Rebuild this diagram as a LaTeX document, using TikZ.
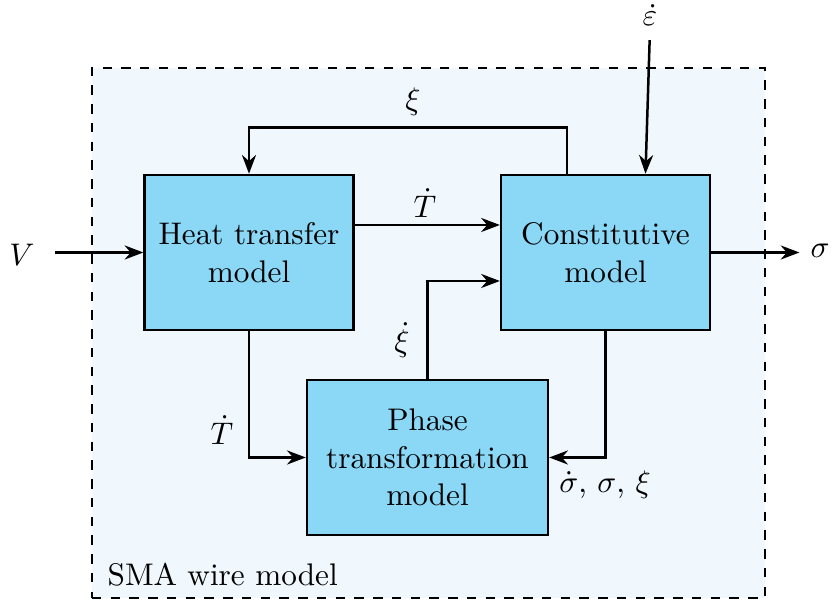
\documentclass[tikz,border=0pt]{standalone}
\usetikzlibrary{calc,arrows.meta}
\definecolor{boxfill}{RGB}{138,215,246}
\definecolor{bgfill}{RGB}{240,247,253}
\begin{document}
\begin{tikzpicture}[x=0.32pt,y=-0.32pt,
  blk/.style={draw,thick,fill=boxfill,align=center,minimum width=66.8pt,minimum height=49.6pt,inner sep=0pt},
  arr/.style={thick,-{Stealth[length=6pt,width=4.5pt]}},
  lbl/.style={inner sep=1pt}]
\useasboundingbox (0,0) rectangle (837,603);
\node[draw,line width=0.9pt,dashed,fill=bgfill,minimum width=215.4pt,minimum height=169.6pt,inner sep=0pt] (frame) at (428.5,333) {};
\node[blk] (heat) at (249,252.5) {Heat transfer\\model};
\node[blk] (const) at (605.5,252.5) {Constitutive\\model};
\node[blk,minimum width=77.1pt] (phase) at (427.5,457.5) {Phase\\transformation\\model};
\node[anchor=west,inner sep=0pt] (sma) at (107,575) {SMA wire model};
\node (V) at (22,255) {$V$};
\node (sig) at (820,251) {$\sigma$};
\node[inner sep=1pt] (eps) at (650,15) {$\dot\varepsilon$};
\node[lbl] (lxi) at (413,102) {$\xi$};
\node[lbl] (lT1) at (425,203) {$\dot T$};
\node[lbl] (lxid) at (402,340) {$\dot\xi$};
\node[lbl] (lT2) at (222,430) {$\dot T$};
\node[lbl] (lsxs) at (605,485) {$\dot\sigma$, $\sigma$, $\xi$};
\draw[arr] ($(const.north)+(-38.5,0)$) -- ++(0,-46) -| (heat.north);
\draw[arr] ($(heat.east)+(0,-27.5)$) -- ($(const.west)+(0,-27.5)$);
\draw[arr] (phase.north) |- ($(const.west)+(0,28.5)$);
\draw[arr] (heat.south) |- (phase.west);
\draw[arr] (const.south) |- (phase.east);
\draw[arr,shorten <=3pt] (V.east |- heat.west) -- (heat.west);
\draw[arr] (const.east) -- (sig.west |- const.east);
\draw[arr,shorten <=3.5pt] (eps.south) -- ($(const.north)+(40,0)$);
\end{tikzpicture}
\end{document}
